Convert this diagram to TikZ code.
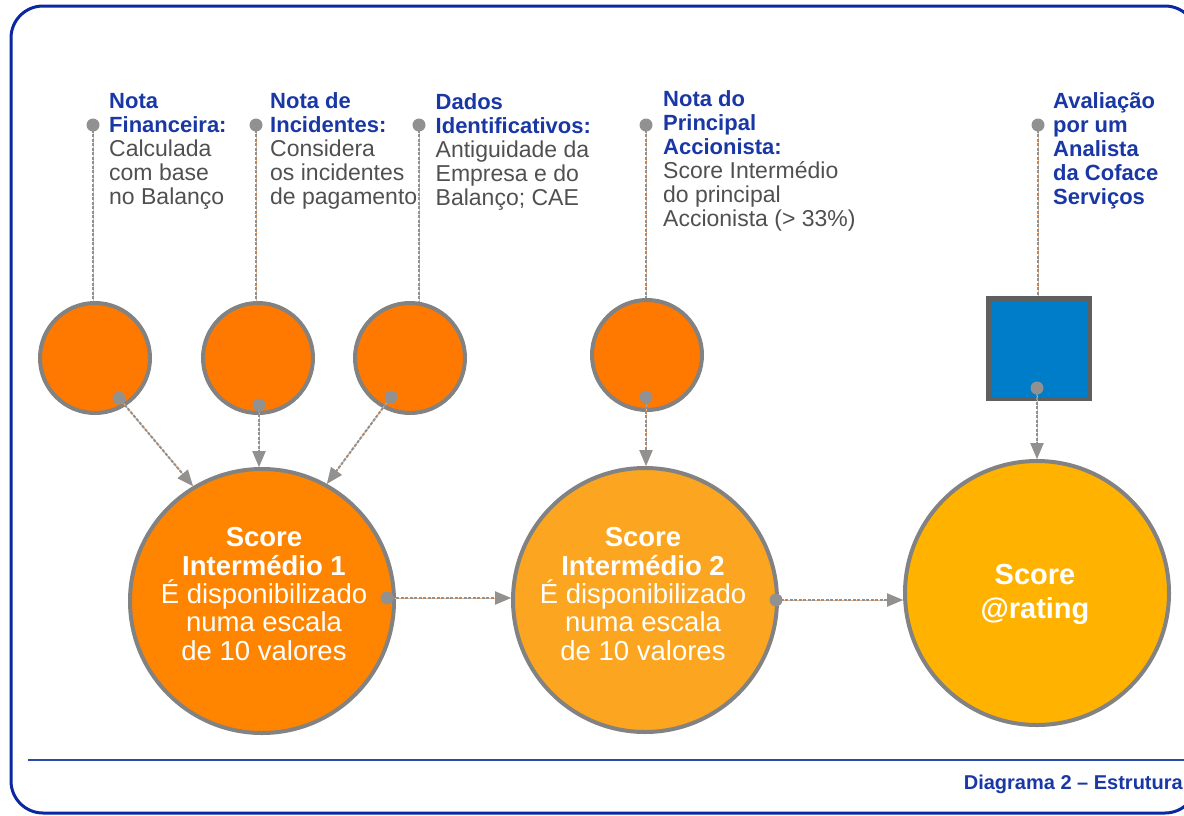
\documentclass[tikz,border=0pt]{standalone}
\usepackage{fontspec}
\setmainfont{Liberation Sans}
\usetikzlibrary{arrows.meta}
\definecolor{frameblue}{RGB}{10,40,160}
\definecolor{titleblue}{RGB}{25,55,165}
\definecolor{bodygray}{RGB}{80,80,80}
\definecolor{ringgray}{RGB}{130,130,130}
\definecolor{dotgray}{RGB}{145,145,145}
\definecolor{orA}{RGB}{255,120,0}
\definecolor{orB}{RGB}{255,133,0}
\definecolor{orC}{RGB}{252,165,32}
\definecolor{orD}{RGB}{255,178,0}
\definecolor{sqblue}{RGB}{0,125,200}
\definecolor{sqedge}{RGB}{95,95,95}
\definecolor{lineor}{RGB}{250,180,130}
\newcommand\mytitle[1]{{\color{titleblue}\fontsize{22}{24}\selectfont\bfseries #1}}
\setlength{\lineskiplimit}{-100pt}
\begin{document}
\begin{tikzpicture}[x=1pt,y=-1pt,
 smallc/.style={circle, draw=ringgray, line width=4pt, fill=orA, minimum size=110pt, inner sep=0pt},
 bigc/.style={circle, draw=ringgray, line width=4pt, minimum size=264pt, inner sep=0pt},
 bigtext/.style={inner sep=0pt, text=white, align=center, font=\fontsize{27.5}{28.3}\selectfont},
 lbl/.style={anchor=north west, inner sep=0pt, align=left, text=bodygray, font=\fontsize{23}{24}\selectfont},
 conn/.style={draw=dotgray, line width=2pt, dash pattern=on 3pt off 1.5pt, preaction={draw=lineor, line width=1pt, solid}},
 arr/.style={conn, -{Triangle[length=16pt,width=13pt]}},
 dotfill/.style={fill=dotgray}]
\useasboundingbox (0,0) rectangle (1184,815);
\clip (0,0) rectangle (1184,815);
% frame and rule
\draw[frameblue, line width=3pt, rounded corners=32pt] (11,6) rectangle (1197,813);
\draw[frameblue!85, line width=2pt] (28,760) -- (1184,760);
\node[anchor=east, text=titleblue, font=\bfseries\fontsize{20}{22}\selectfont, inner sep=0pt] (cap) at (1183,784) {Diagrama 2 – Estrutura};
% texts
\node[lbl] (l1) at (109,93) {\mytitle{Nota}\\\mytitle{Financeira:}\\Calculada\\com base\\no Balanço};
\node[lbl] (l2) at (270,92) {\mytitle{Nota de}\\\mytitle{Incidentes:}\\Considera\\os incidentes\\de pagamento};
\node[lbl] (l3) at (435.5,93) {\mytitle{Dados}\\\mytitle{Identificativos:}\\Antiguidade da\\Empresa e do\\Balanço; CAE};
\node[lbl] (l4) at (663,90) {\mytitle{Nota do}\\\mytitle{Principal}\\\mytitle{Accionista:}\\Score Intermédio\\do principal\\Accionista (> 33\%)};
\node[lbl] (l5) at (1053,92) {\mytitle{Avaliação}\\\mytitle{por um}\\\mytitle{Analista}\\\mytitle{da Coface}\\\mytitle{Serviços}};
% shapes
\node[smallc] (c1) at (95,358) {};
\node[smallc] (c2) at (258,358) {};
\node[smallc] (c3) at (410,358) {};
\node[smallc] (c4) at (647,355) {};
\node[draw=sqedge, line width=4.5pt, fill=sqblue, minimum width=101.5pt, minimum height=100.5pt, inner sep=0pt] (sq) at (1039,348.5) {};
\node[bigc, fill=orB] (b1) at (262,601) {};
\node[bigc, fill=orC] (b2) at (645,600) {};
\node[bigc, fill=orD] (b3) at (1037,593) {};
\node[bigtext] (b1t) at (264,594) {\textbf{Score}\\\textbf{Intermédio 1}\\É disponibilizado\\numa escala\\de 10 valores};
\node[bigtext] (b2t) at (643,594) {\textbf{Score}\\\textbf{Intermédio 2}\\É disponibilizado\\numa escala\\de 10 valores};
\node[bigtext, font=\bfseries\fontsize{29}{34}\selectfont] (b3t) at (1035,594) {Score\\@rating};
% dot positions
\coordinate (t1) at (93,125);
\coordinate (t2) at (256,125);
\coordinate (t3) at (419,125);
\coordinate (t4) at (646,125);
\coordinate (t5) at (1038,125);
\coordinate (d1b) at (119,398);
\coordinate (d2b) at (259,405);
\coordinate (d3b) at (391,397);
\coordinate (d4b) at (646,397);
\coordinate (d5b) at (1037,388);
\coordinate (d6) at (387,598);
\coordinate (d7) at (776,600);
% connectors
\draw[conn] (t1) -- (t1 |- c1.north);
\draw[conn] (t2) -- (t2 |- c2.north);
\draw[conn] (t3) -- (t3 |- c3.north);
\draw[conn] (t4) -- (t4 |- c4.north);
\draw[conn] (t5) -- (t5 |- sq.north);
\draw[arr] (d1b) -- (b1.121);
\draw[arr] (d2b) -- (d2b |- b1.north);
\draw[arr] (d3b) -- (b1.61);
\draw[arr] (d4b) -- (d4b |- b2.north);
\draw[arr] (d5b) -- (d5b |- b3.north);
\draw[arr] (d6) -- (d6 -| b2.west);
\draw[arr] (d7) -- (d7 -| b3.west);
% dots
\foreach \p in {t1,t2,t3,t4,t5,d1b,d2b,d3b,d4b,d5b,d6,d7}
  \fill[dotfill] (\p) circle (6.5pt);
\end{tikzpicture}
\end{document}
